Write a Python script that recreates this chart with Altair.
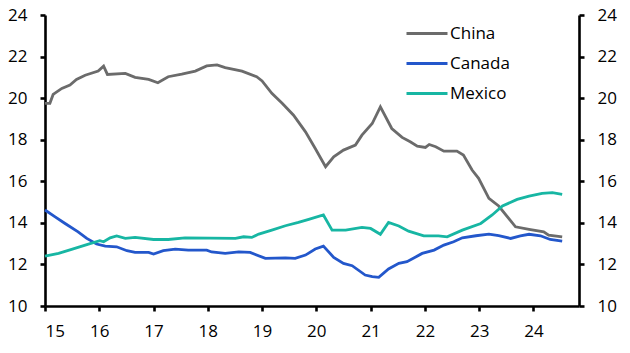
import altair as alt
import pandas as pd

# ---- data (decimal years, %) ----
china_x = [15.00, 15.09, 15.15, 15.31, 15.46, 15.58, 15.74, 15.98, 16.08, 16.15, 16.48, 16.66,
           16.91, 17.08, 17.27, 17.52, 17.77, 17.98, 18.17, 18.32, 18.63, 18.90, 19.00, 19.18,
           19.37, 19.58, 19.80, 19.98, 20.17, 20.32, 20.50, 20.72, 20.84, 21.03, 21.18, 21.39,
           21.58, 21.73, 21.86, 22.01, 22.08, 22.20, 22.35, 22.59, 22.71, 22.87, 22.99, 23.18,
           23.36, 23.67, 23.92, 24.19, 24.28, 24.53]
china_y = [19.75, 19.75, 20.18, 20.47, 20.63, 20.90, 21.10, 21.30, 21.54, 21.14, 21.19, 21.00,
           20.90, 20.74, 21.03, 21.15, 21.30, 21.55, 21.60, 21.47, 21.30, 21.03, 20.83, 20.23,
           19.75, 19.18, 18.38, 17.58, 16.70, 17.18, 17.50, 17.74, 18.22, 18.78, 19.58, 18.54,
           18.11, 17.90, 17.69, 17.63, 17.77, 17.66, 17.45, 17.45, 17.26, 16.54, 16.14, 15.18,
           14.81, 13.81, 13.69, 13.57, 13.41, 13.33]

canada_x = [15.00, 15.18, 15.37, 15.61, 15.77, 15.95, 16.11, 16.32, 16.51, 16.66, 16.91, 17.00,
            17.18, 17.40, 17.64, 17.98, 18.07, 18.32, 18.57, 18.78, 19.06, 19.43, 19.61, 19.80,
            19.98, 20.13, 20.32, 20.50, 20.66, 20.90, 21.03, 21.15, 21.33, 21.52, 21.67, 21.95,
            22.17, 22.35, 22.53, 22.69, 22.94, 23.18, 23.36, 23.58, 23.76, 23.92, 24.13, 24.31,
            24.53]
canada_y = [14.62, 14.30, 13.97, 13.57, 13.25, 12.98, 12.88, 12.85, 12.66, 12.58, 12.58, 12.50,
            12.66, 12.74, 12.69, 12.69, 12.60, 12.53, 12.60, 12.58, 12.29, 12.32, 12.29, 12.45,
            12.74, 12.88, 12.34, 12.05, 11.94, 11.49, 11.41, 11.38, 11.78, 12.05, 12.13, 12.53,
            12.69, 12.93, 13.09, 13.28, 13.38, 13.46, 13.38, 13.25, 13.37, 13.45, 13.38, 13.20,
            13.12]

mexico_x = [15.00, 15.25, 15.49, 15.80, 16.01, 16.08, 16.20, 16.32, 16.48, 16.66, 17.00, 17.27,
            17.58, 18.51, 18.66, 18.81, 18.94, 19.18, 19.43, 19.67, 19.86, 20.13, 20.29, 20.54,
            20.84, 21.00, 21.18, 21.33, 21.52, 21.70, 21.98, 22.25, 22.41, 22.69, 23.03, 23.24,
            23.43, 23.70, 23.92, 24.16, 24.35, 24.53]
mexico_y = [12.40, 12.53, 12.72, 12.98, 13.14, 13.09, 13.28, 13.37, 13.25, 13.30, 13.20, 13.20,
            13.28, 13.25, 13.33, 13.30, 13.46, 13.65, 13.86, 14.02, 14.17, 14.38, 13.65, 13.65,
            13.78, 13.73, 13.45, 14.02, 13.85, 13.60, 13.37, 13.37, 13.33, 13.65, 13.97, 14.38,
            14.81, 15.13, 15.29, 15.42, 15.45, 15.37]

series_names = ["China", "Canada", "Mexico"]
series_colors = ["#6b6b6b", "#2357cb", "#17b6a3"]
x_ticks = [15, 16, 17, 18, 19, 20, 21, 22, 23, 24]
y_ticks = [10, 12, 14, 16, 18, 20, 22, 24]

rows = []
for name, xs, ys in [("China", china_x, china_y),
                     ("Canada", canada_x, canada_y),
                     ("Mexico", mexico_x, mexico_y)]:
    for i, (xv, yv) in enumerate(zip(xs, ys)):
        rows.append({"series": name, "year": xv, "value": yv, "i": i})
df = pd.DataFrame(rows)

FONT = "Open Sans"

x_enc = alt.X("year:Q",
              scale=alt.Scale(domain=[15, 24.84], nice=False, zero=False),
              axis=alt.Axis(values=x_ticks, format="d", title=None, labelPadding=12))
y_scale = alt.Scale(domain=[10, 24], nice=False, zero=False)
color_enc = alt.Color("series:N",
                      scale=alt.Scale(domain=series_names, range=series_colors),
                      sort=series_names,
                      legend=alt.Legend(title=None, orient="none", legendX=360, legendY=-3.5,
                                        symbolType="stroke", symbolSize=1681,
                                        symbolStrokeWidth=3, labelFontSize=17,
                                        labelFont=FONT, labelColor="black",
                                        rowPadding=-11.5, padding=0, labelOffset=1))

base = alt.Chart(df)
lines = base.mark_line(strokeWidth=2.8).encode(
    x=x_enc,
    y=alt.Y("value:Q", scale=y_scale,
            axis=alt.Axis(orient="left", values=y_ticks, title=None, labelPadding=13)),
    color=color_enc,
    order="i:Q",
)
right = base.mark_line(strokeWidth=2.8, opacity=0).encode(
    x=x_enc,
    y=alt.Y("value:Q", scale=y_scale,
            axis=alt.Axis(orient="right", values=y_ticks, title=None, labelPadding=13)),
    color=color_enc,
    order="i:Q",
)

chart = (
    alt.layer(lines, right)
    .resolve_axis(y="independent")
    .properties(width=534, height=291,
                autosize=alt.AutoSizeParams(type="none"),
                padding={"left": 45, "top": 15, "right": 51, "bottom": 47})
    .configure_view(stroke=None)
    .configure_axis(domainColor="black", domainWidth=2.6, tickColor="black",
                    tickWidth=2.6, tickSize=5, labelFont=FONT, labelFontSize=17,
                    labelColor="black", grid=False)
)

chart.save("out.html", embed_options={"renderer": "svg", "actions": False})
